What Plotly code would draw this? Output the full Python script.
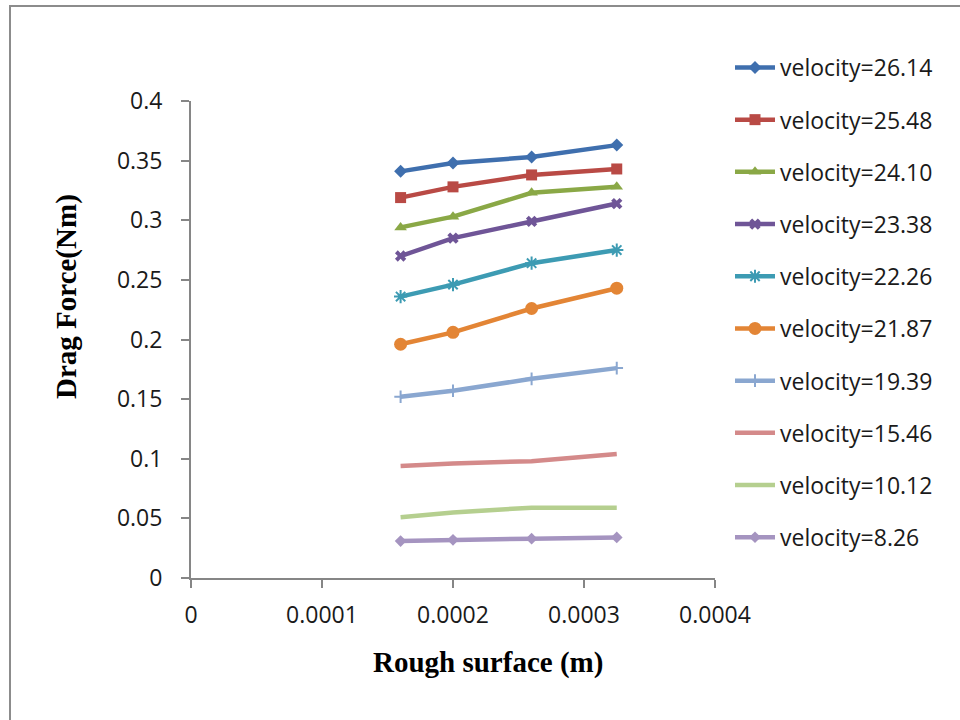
import plotly.graph_objects as go

# ---- data ----
roughness = [0.00016, 0.0002, 0.00026, 0.000325]
labels = ["velocity=26.14", "velocity=25.48", "velocity=24.10", "velocity=23.38",
          "velocity=22.26", "velocity=21.87", "velocity=19.39", "velocity=15.46",
          "velocity=10.12", "velocity=8.26"]
v2614 = [0.341, 0.348, 0.353, 0.363]
v2548 = [0.319, 0.328, 0.338, 0.343]
v2410 = [0.294, 0.303, 0.323, 0.328]
v2338 = [0.270, 0.285, 0.299, 0.314]
v2226 = [0.236, 0.246, 0.264, 0.275]
v2187 = [0.196, 0.206, 0.226, 0.243]
v1939 = [0.152, 0.157, 0.167, 0.176]
v1546 = [0.094, 0.096, 0.098, 0.104]
v1012 = [0.051, 0.055, 0.059, 0.059]
v826 = [0.031, 0.032, 0.033, 0.034]
series = [v2614, v2548, v2410, v2338, v2226, v2187, v1939, v1546, v1012, v826]
x_ticks = [0, 0.0001, 0.0002, 0.0003, 0.0004]
x_tick_text = ["0", "0.0001", "0.0002", "0.0003", "0.0004"]
y_ticks = [0, 0.05, 0.1, 0.15, 0.2, 0.25, 0.3, 0.35, 0.4]
y_tick_text = ["0", "0.05", "0.1", "0.15", "0.2", "0.25", "0.3", "0.35", "0.4"]

# ---- styles ----
colors = ["#3f6fae", "#b94a45", "#8aa846", "#6f5597", "#3d9bb3",
          "#e38535", "#8aa7d0", "#d48a8a", "#b5cf8f", "#a594c0"]
symbols = ["diamond", "square", "triangle-up", "x", "asterisk",
           "circle", "cross-thin", None, None, "diamond"]
sizes = [10, 11, 11, 10, 11, 13, 9, 0, 0, 9]

W, H = 960, 720
L, R, T, B = 191, 715, 101, 578  # plot area in pixels

def px_x(p):
    return (p - L) / (R - L)

def px_y(p):
    return (B - p) / (B - T)

fig = go.Figure()
for i, (name, ys) in enumerate(zip(labels, series)):
    sym = symbols[i]
    if sym is None:
        mode = "lines"
        marker = None
    else:
        mode = "lines+markers"
        if sym in ("asterisk", "cross-thin"):
            marker = dict(symbol=sym, size=sizes[i], color=colors[i],
                          line=dict(color=colors[i], width=2))
        else:
            marker = dict(symbol=sym, size=sizes[i], color=colors[i],
                          line=dict(width=0))
    fig.add_trace(go.Scatter(
        x=roughness, y=ys, name=name, mode=mode,
        line=dict(color=colors[i], width=4.5),
        marker=marker, legendgroup=f"g{i}",
    ))

axis_color = "#868686"
tick_font = dict(family="Open Sans", size=23, color="#1a1a1a")

fig.update_layout(
    width=W, height=H,
    margin=dict(l=L, r=W - R, t=T, b=H - B),
    paper_bgcolor="white", plot_bgcolor="white",
    showlegend=True,
    legend=dict(
        x=px_x(730), y=px_y(46), xanchor="left", yanchor="top",
        font=dict(family="Open Sans", size=23, color="#1a1a1a"),
        tracegroupgap=19.3, itemwidth=40, bgcolor="rgba(0,0,0,0)",
        maxheight=1,
    ),
    xaxis=dict(
        range=[0, 0.0004], tickvals=x_ticks, ticktext=x_tick_text,
        showline=True, linecolor=axis_color, linewidth=2,
        ticks="outside", ticklen=8, tickwidth=2, tickcolor=axis_color,
        showgrid=False, zeroline=False, tickfont=tick_font,
        ticklabelstandoff=7,
    ),
    yaxis=dict(
        range=[0, 0.4], tickvals=y_ticks, ticktext=y_tick_text,
        showline=True, linecolor=axis_color, linewidth=2,
        ticks="outside", ticklen=8, tickwidth=2, tickcolor=axis_color,
        showgrid=False, zeroline=False, tickfont=tick_font,
        ticklabelstandoff=14,
    ),
    annotations=[
        dict(text="<b>Rough surface (m)</b>", xref="paper", yref="paper",
             x=px_x(488), y=px_y(662), xanchor="center", yanchor="middle",
             showarrow=False,
             font=dict(family="Liberation Serif", size=29, color="black")),
        dict(text="<b>Drag Force(Nm)</b>", xref="paper", yref="paper",
             x=px_x(66), y=px_y(297), xanchor="center", yanchor="middle",
             showarrow=False, textangle=-90,
             font=dict(family="Liberation Serif", size=29, color="black")),
    ],
    shapes=[
        dict(type="rect", xref="paper", yref="paper",
             x0=px_x(10), x1=px_x(975), y0=px_y(735), y1=px_y(6),
             line=dict(color="#8c8c8c", width=2), fillcolor="rgba(0,0,0,0)",
             layer="below"),
    ],
)

fig.write_html("out.html")
